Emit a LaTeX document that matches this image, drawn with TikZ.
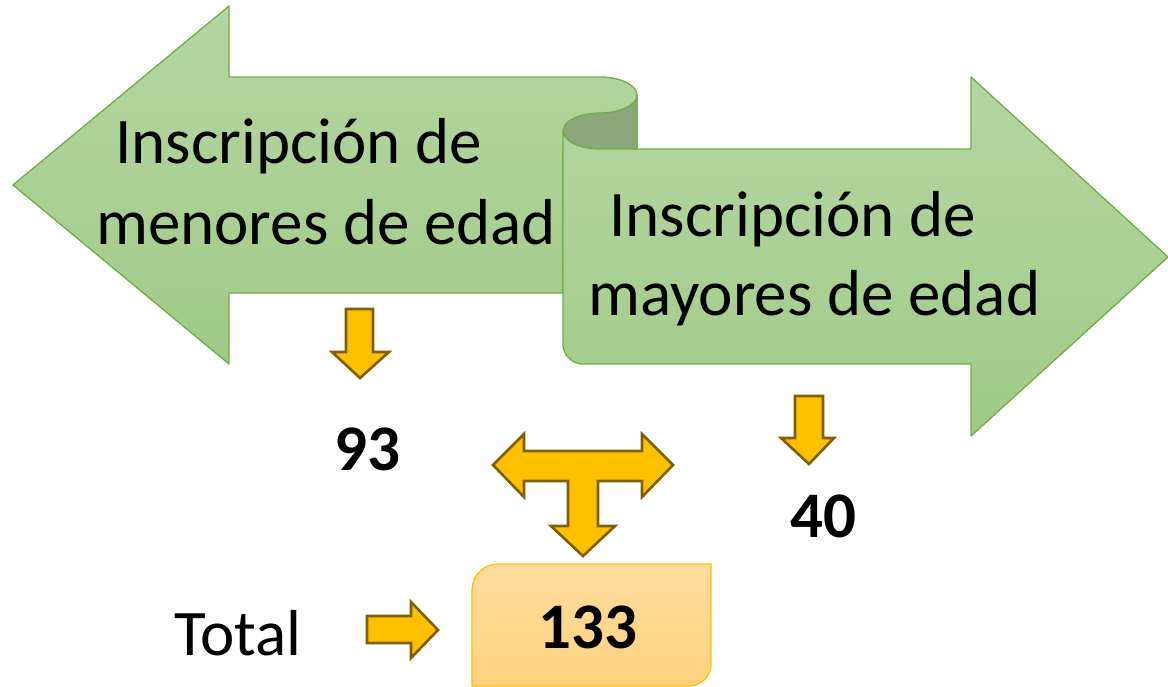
\documentclass[tikz,border=0pt]{standalone}
\usepackage{fontspec}
\setmainfont{Carlito}
\definecolor{gtop}{HTML}{B5D6A3}
\definecolor{gbot}{HTML}{A1CA87}
\definecolor{gline}{HTML}{70AD47}
\definecolor{gfold}{HTML}{8CA87B}
\definecolor{yfill}{HTML}{FFC000}
\definecolor{yline}{HTML}{7F6000}
\definecolor{btop}{HTML}{FFDC9E}
\definecolor{bbot}{HTML}{FFD27E}
\tikzset{
  greenshape/.style={top color=gtop, bottom color=gbot, draw=gline, line width=1.3pt, line join=round},
  foldshape/.style={fill=gfold, draw=gline, line width=1.3pt, line join=round},
  yarrow/.style={fill=yfill, draw=yline, line width=2.6pt, line join=miter},
  bigtext/.style={font=\fontsize{65}{78}\selectfont, anchor=base west, inner sep=0pt},
  numtext/.style={font=\fontsize{65}{78}\selectfont\bfseries, anchor=base west, inner sep=0pt},
}
\begin{document}
\begin{tikzpicture}[x=1pt, y=-1pt]
\useasboundingbox (0,0) rectangle (1168,686);
% left arrow
\path[greenshape] (13,185) -- (229,6) -- (229,77) -- (600,77)
  .. controls (620.4,77) and (637,85.1) .. (637,95) -- (637,149) -- (563,149)
  -- (563,293) -- (229,293) -- (229,364) -- cycle;
% dark fold
\path[foldshape] (637,95) .. controls (637,104.9) and (620.4,113) .. (600,113)
  .. controls (579.6,113) and (563,121.1) .. (563,131)
  .. controls (563,140.9) and (579.6,149) .. (600,149) -- (637,149) -- cycle;
% right arrow
\path[greenshape] (563,131) .. controls (563,140.9) and (579.6,149) .. (600,149)
  -- (971,149) -- (971,77) -- (1168,257) -- (971,436) -- (971,364) -- (583,364)
  .. controls (572,364) and (563,355) .. (563,344) -- cycle;
% texts
\node[bigtext] (l1) at (115,163) {Inscripción de};
\node[bigtext] (l2) at (96,244) {menores de edad};
\node[bigtext] (r1) at (609,236) {Inscripción de};
\node[bigtext] (r2) at (588,315) {mayores de edad};
% down arrows
\path[yarrow] (346,309) -- (373,309) -- (373,352) -- (389,352) -- (360,378) -- (332,352) -- (346,352) -- cycle;
\path[yarrow] (795,396) -- (823,396) -- (823,438) -- (834,438) -- (809,464) -- (781,438) -- (795,438) -- cycle;
% T arrow
\path[yarrow] (493,465) -- (524,434) -- (524,451) -- (642,451) -- (642,434) -- (673,465)
  -- (642,497) -- (642,481) -- (598,481) -- (598,526) -- (615,526) -- (583,556)
  -- (551,526) -- (568,526) -- (568,481) -- (524,481) -- (524,497) -- cycle;
% total arrow
\path[yarrow] (367,616) -- (411,616) -- (411,602) -- (438,630) -- (411,658) -- (411,643) -- (367,643) -- cycle;
% box
\path[top color=btop, bottom color=bbot, draw=yfill, line width=1.3pt]
  (472,590) .. controls (472,575.6) and (483.6,564) .. (498,564) -- (711,564) -- (711,664)
  .. controls (711,676) and (701,686) .. (689,686) -- (472,686) -- cycle;
\node[numtext] (n93) at (334,470) {93};
\node[numtext] (n40) at (790,537) {40};
\node[numtext] (n133) at (538,648) {133};
\node[bigtext] (tot) at (174,655) {Total};
\end{tikzpicture}
\end{document}
